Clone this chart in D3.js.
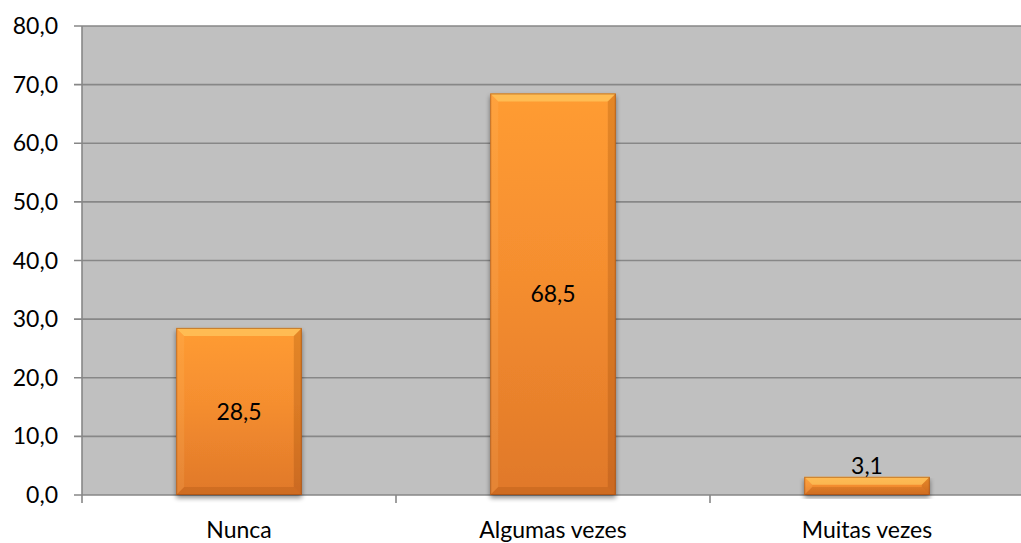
<!DOCTYPE html>
<html>
<head>
<meta charset="utf-8">
<script src="https://cdn.jsdelivr.net/npm/d3@7"></script>
<style>
  html, body { margin: 0; padding: 0; background: #ffffff; }
  svg { display: block; }
  text { font-family: Lato, "Open Sans", "Liberation Sans", sans-serif; fill: #000; }
</style>
</head>
<body>
<svg id="chart" width="1021" height="543"></svg>
<script>
// Response categories and their percentages
const categories = ["Nunca", "Algumas vezes", "Muitas vezes"];
const values = [28.5, 68.5, 3.1];
const yTicks = [0, 10, 20, 30, 40, 50, 60, 70, 80];

const fmt = v => v.toFixed(1).replace(".", ",");
const FS = 23;

const svg = d3.select("#chart");
const plot = { left: 82, right: 1024, top: 26, bottom: 495 };

const x = d3.scaleBand()
  .domain(categories)
  .range([plot.left, plot.right])
  .paddingInner(0.6)
  .paddingOuter(0.3);

const y = d3.scaleLinear()
  .domain([0, 80])
  .range([plot.bottom, plot.top]);

const defs = svg.append("defs");

// Body gradient of the bars (light orange on top, darker at the base)
const grad = defs.append("linearGradient")
  .attr("id", "barFill").attr("x1", 0).attr("y1", 0).attr("x2", 0).attr("y2", 1);
grad.append("stop").attr("offset", "0%").attr("stop-color", "#ff9c33");
grad.append("stop").attr("offset", "45%").attr("stop-color", "#f58e2f");
grad.append("stop").attr("offset", "100%").attr("stop-color", "#e0782a");

// Soft shadow under each bar
const sh = defs.append("filter").attr("id", "barShadow")
  .attr("x", "-10%").attr("y", "-10%").attr("width", "120%").attr("height", "130%");
sh.append("feGaussianBlur").attr("in", "SourceAlpha").attr("stdDeviation", 2.5).attr("result", "b");
sh.append("feOffset").attr("in", "b").attr("dx", 0).attr("dy", 3).attr("result", "o");
sh.append("feComponentTransfer").attr("in", "o").attr("result", "s")
  .append("feFuncA").attr("type", "linear").attr("slope", 0.45);
const m = sh.append("feMerge");
m.append("feMergeNode").attr("in", "s");
m.append("feMergeNode").attr("in", "SourceGraphic");

// Plot background
svg.append("rect")
  .attr("x", plot.left).attr("y", plot.top)
  .attr("width", plot.right - plot.left).attr("height", plot.bottom - plot.top)
  .attr("fill", "#c0c0c0");

// Horizontal gridlines
svg.append("g").selectAll("line")
  .data(yTicks)
  .join("line")
  .attr("x1", plot.left - 8).attr("x2", plot.right)
  .attr("y1", d => y(d)).attr("y2", d => y(d))
  .attr("stroke", "#878787").attr("stroke-width", 1.6);

// Value axis line
svg.append("line")
  .attr("x1", plot.left).attr("x2", plot.left)
  .attr("y1", plot.top).attr("y2", plot.bottom + 8)
  .attr("stroke", "#878787").attr("stroke-width", 1.6);

// Value axis labels
svg.append("g").selectAll("text")
  .data(yTicks)
  .join("text")
  .attr("x", 58).attr("y", d => y(d))
  .attr("dy", "0.35em")
  .attr("text-anchor", "end")
  .attr("font-size", FS)
  .text(fmt);

// Category separators below the axis
const sepX = categories.slice(1).map(c => x(c) - x.step() * x.paddingInner() / 2);
svg.append("g").selectAll("line")
  .data(sepX)
  .join("line")
  .attr("x1", d => d).attr("x2", d => d)
  .attr("y1", plot.bottom).attr("y2", plot.bottom + 8)
  .attr("stroke", "#878787").attr("stroke-width", 1.6);

// Bars with bevelled edges
const bw = x.bandwidth();
const bars = svg.append("g").selectAll("g")
  .data(categories.map((c, i) => ({ c, v: values[i] })))
  .join("g")
  .attr("filter", "url(#barShadow)");

bars.append("rect")
  .attr("x", d => x(d.c)).attr("y", d => y(d.v))
  .attr("width", bw).attr("height", d => y(0) - y(d.v))
  .attr("fill", "url(#barFill)");

bars.each(function(d) {
  const g = d3.select(this);
  const x0 = x(d.c), x1 = x0 + bw, y0 = y(d.v), y1 = y(0);
  const b = Math.min(8, (y1 - y0) / 2);
  const poly = (pts, fill) => g.append("polygon")
    .attr("points", pts.map(p => p.join(",")).join(" "))
    .attr("fill", fill);
  // top facet
  poly([[x0, y0], [x1, y0], [x1 - b, y0 + b], [x0 + b, y0 + b]], "rgba(255,215,110,0.55)");
  // left facet
  poly([[x0, y0], [x0 + b, y0 + b], [x0 + b, y1 - b], [x0, y1]], "rgba(255,200,120,0.15)");
  // right facet
  poly([[x1, y0], [x1, y1], [x1 - b, y1 - b], [x1 - b, y0 + b]], "rgba(120,50,0,0.2)");
  // bottom facet
  poly([[x0, y1], [x1, y1], [x1 - b, y1 - b], [x0 + b, y1 - b]], "rgba(120,50,0,0.16)");
  // outline
  g.append("rect")
    .attr("x", x0 + 0.5).attr("y", y0 + 0.5)
    .attr("width", bw - 1).attr("height", y1 - y0 - 1)
    .attr("fill", "none").attr("stroke", "rgba(150,70,10,0.55)").attr("stroke-width", 1);
});

// Value labels: centred in the bar, or just above it when the bar is short
svg.append("g").selectAll("text")
  .data(categories.map((c, i) => ({ c, v: values[i] })))
  .join("text")
  .attr("x", d => x(d.c) + bw / 2)
  .attr("y", d => {
    const h = y(0) - y(d.v);
    return h > 30 ? (y(d.v) + y(0)) / 2 : y(d.v) - 11;
  })
  .attr("dy", "0.35em")
  .attr("text-anchor", "middle")
  .attr("font-size", FS)
  .text(d => fmt(d.v));

// Category labels
svg.append("g").selectAll("text")
  .data(categories)
  .join("text")
  .attr("x", d => x(d) + bw / 2)
  .attr("y", 530)
  .attr("dy", "0.35em")
  .attr("text-anchor", "middle")
  .attr("font-size", FS)
  .text(d => d);
</script>
</body>
</html>
